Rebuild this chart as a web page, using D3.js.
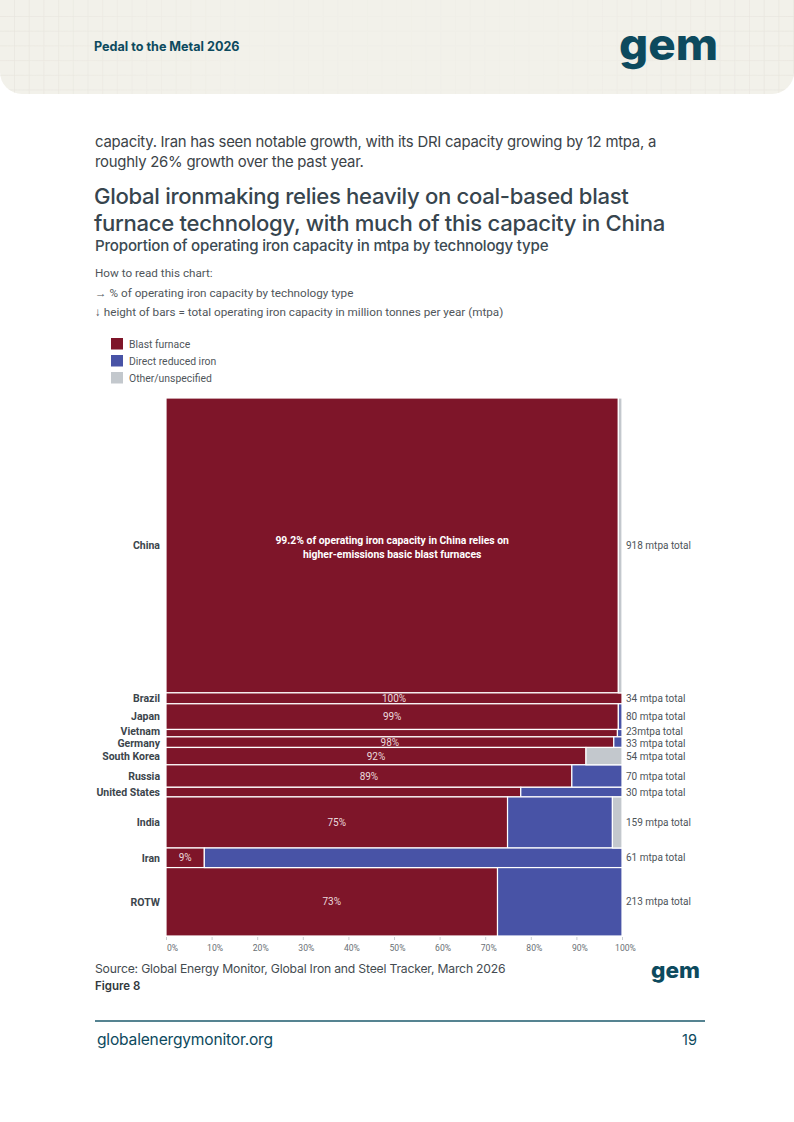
<!DOCTYPE html>
<html>
<head>
<meta charset="utf-8">
<script src="https://cdn.jsdelivr.net/npm/d3@7"></script>
<style>
  body { margin: 0; background: #fff; }
  svg { display: block; }
</style>
</head>
<body>
<script>
// values
var countries = ["China", "Brazil", "Japan", "Vietnam", "Germany", "South Korea", "Russia", "United States", "India", "Iran", "ROTW"];
var totals = [918, 34, 80, 23, 33, 54, 70, 30, 159, 61, 213];
var totalLabels = ["918 mtpa total", "34 mtpa total", "80 mtpa total", "23mtpa total", "33 mtpa total", "54 mtpa total",
                   "70 mtpa total", "30 mtpa total", "159 mtpa total", "61 mtpa total", "213 mtpa total"];
var blastFurnace = [99.2, 100, 99.2, 99.0, 98.2, 92.1, 89.0, 77.8, 74.9, 8.4, 72.7];
var directReduced = [0, 0, 0.8, 1.0, 1.8, 0, 11.0, 22.2, 23.0, 91.6, 27.3];
var otherUnspec = [0.8, 0, 0, 0, 0, 7.9, 0, 0, 2.1, 0, 0];
var pctLabels = ["", "100%", "99%", "", "98%", "92%", "89%", "", "75%", "9%", "73%"];
var xTicks = [0, 10, 20, 30, 40, 50, 60, 70, 80, 90, 100];

var seriesKeys = ["bf", "dri", "other"];
var seriesNames = ["Blast furnace", "Direct reduced iron", "Other/unspecified"];
var colors = {bf: "#7e1529", dri: "#4853a6", other: "#c3c8cd"};

var W = 794, H = 1122;
var teal = "#0d4a5e";
var chartFont = "Roboto, 'Noto Sans', sans-serif";
var textFont = "Inter, 'Noto Sans', sans-serif";

var svg = d3.select("body").append("svg")
    .attr("width", W)
    .attr("height", H);

// ---- page header band ----
var defs = svg.append("defs");
var grad = defs.append("linearGradient").attr("id", "fade");
grad.append("stop").attr("offset", "0%").attr("stop-color", "#fff").attr("stop-opacity", 1);
grad.append("stop").attr("offset", "30%").attr("stop-color", "#fff").attr("stop-opacity", 0.15);
grad.append("stop").attr("offset", "70%").attr("stop-color", "#fff").attr("stop-opacity", 0.15);
grad.append("stop").attr("offset", "100%").attr("stop-color", "#fff").attr("stop-opacity", 1);
defs.append("mask").attr("id", "gridMask")
  .append("rect").attr("width", W).attr("height", 94).attr("fill", "url(#fade)");
defs.append("clipPath").attr("id", "headClip")
  .append("path").attr("d", "M0,0H794V72A22,22 0 0 1 772,94H22A22,22 0 0 1 0,72Z");

var head = svg.append("g").attr("clip-path", "url(#headClip)");
head.append("rect").attr("width", W).attr("height", 94).attr("fill", "#f2f1ea");
var grid = head.append("g").attr("mask", "url(#gridMask)")
    .attr("stroke", "#e5e3dc").attr("stroke-width", 0.6);
grid.selectAll("line.v").data(d3.range(14.5, W, 14.7)).enter().append("line")
    .attr("x1", function(d){ return d; }).attr("x2", function(d){ return d; })
    .attr("y1", 0).attr("y2", 94);
grid.selectAll("line.h").data(d3.range(16.5, 94, 14.7)).enter().append("line")
    .attr("y1", function(d){ return d; }).attr("y2", function(d){ return d; })
    .attr("x1", 0).attr("x2", W);

svg.append("text").attr("x", 94).attr("y", 51)
    .style("font-family", textFont).style("font-size", "12.6px").style("font-weight", 700)
    .attr("fill", teal).text("Pedal to the Metal 2026");

svg.append("text").attr("x", 619).attr("y", 60)
    .attr("textLength", 99).attr("lengthAdjust", "spacingAndGlyphs")
    .style("font-family", textFont).style("font-size", "44px").style("font-weight", 800)
    .attr("fill", teal).text("gem");

// ---- intro text and titles ----
var bodyLines = ["capacity. Iran has seen notable growth, with its DRI capacity growing by 12 mtpa, a",
                 "roughly 26% growth over the past year."];
svg.selectAll("text.body").data(bodyLines).enter().append("text")
    .attr("class", "body")
    .attr("x", 95).attr("y", function(d, i){ return 147 + i * 20; })
    .style("font-family", textFont).style("font-size", "14.9px").style("letter-spacing", "-0.25px")
    .attr("fill", "#3c4348").text(function(d){ return d; });

var titleLines = ["Global ironmaking relies heavily on coal-based blast",
                  "furnace technology, with much of this capacity in China"];
svg.selectAll("text.title").data(titleLines).enter().append("text")
    .attr("class", "title")
    .attr("x", 94).attr("y", function(d, i){ return 204 + i * 27; })
    .style("font-family", textFont).style("font-size", "22.1px").style("font-weight", 500)
    .style("letter-spacing", "-0.3px")
    .attr("fill", "#37454e").text(function(d){ return d; });

svg.append("text").attr("x", 95).attr("y", 251)
    .style("font-family", textFont).style("font-size", "15.1px").style("font-weight", 500)
    .style("letter-spacing", "-0.2px")
    .attr("fill", "#3b4a53").text("Proportion of operating iron capacity in mtpa by technology type");

var howLines = ["How to read this chart:",
                "\u2192 % of operating iron capacity by technology type",
                "\u2193 height of bars = total operating iron capacity in million tonnes per year (mtpa)"];
svg.selectAll("text.how").data(howLines).enter().append("text")
    .attr("class", "how")
    .attr("x", 95).attr("y", function(d, i){ return 277 + i * 19.5; })
    .style("font-family", chartFont).style("font-size", "11.7px")
    .attr("fill", "#50565b").text(function(d){ return d; });

// ---- legend ----
var legend = svg.append("g").attr("transform", "translate(111,338)");
var li = legend.selectAll("g").data(seriesKeys).enter().append("g")
    .attr("transform", function(d, i){ return "translate(0," + (i * 17) + ")"; });
li.append("rect").attr("width", 12).attr("height", 11.5)
    .attr("fill", function(d){ return colors[d]; });
li.append("text").attr("x", 18).attr("y", 10)
    .style("font-family", chartFont).style("font-size", "10.4px")
    .attr("fill", "#50565b").text(function(d, i){ return seriesNames[i]; });

// ---- marimekko ----
var x = d3.scaleLinear().domain([0, 100]).range([166, 622]);
var y = d3.scaleLinear().domain([0, d3.sum(totals)]).range([398, 936]);

var cum = [0].concat(Array.from(d3.cumsum(totals)));
var rows = countries.map(function(c, i){
  return {name: c, total: totals[i], y0: cum[i], y1: cum[i + 1],
          bf: blastFurnace[i], dri: directReduced[i], other: otherUnspec[i],
          label: totalLabels[i], pct: pctLabels[i]};
});

var stack = d3.stack().keys(seriesKeys);
var layers = stack(rows);

var chart = svg.append("g");
chart.selectAll("g.layer").data(layers).enter().append("g")
    .attr("class", "layer")
    .attr("fill", function(d){ return colors[d.key]; })
  .selectAll("rect")
    .data(function(d){ return d.filter(function(s){ return s[1] - s[0] > 0; }); })
    .enter().append("rect")
    .attr("x", function(s){ return x(s[0]); })
    .attr("width", function(s){ return x(s[1]) - x(s[0]); })
    .attr("y", function(s){ return y(s.data.y0); })
    .attr("height", function(s){ return y(s.data.y1) - y(s.data.y0); })
    .attr("stroke", "#fff").attr("stroke-width", 1.2);

// percentage labels inside blast furnace segments
chart.selectAll("text.pct").data(rows.filter(function(r){ return r.pct; })).enter().append("text")
    .attr("class", "pct")
    .attr("x", function(r){ return x(r.bf / 2); })
    .attr("y", function(r){ return (y(r.y0) + y(r.y1)) / 2; })
    .attr("dy", "0.36em").attr("text-anchor", "middle")
    .style("font-family", chartFont).style("font-size", "10px")
    .attr("fill", "#eadadd").text(function(r){ return r.pct; });

// China annotation
var china = rows[0];
var note = chart.append("text")
    .attr("x", x(china.bf / 2))
    .attr("y", (y(china.y0) + y(china.y1)) / 2 - 1)
    .attr("text-anchor", "middle")
    .style("font-family", chartFont).style("font-size", "10.4px").style("font-weight", 700)
    .attr("fill", "#fff");
note.append("tspan").attr("x", x(china.bf / 2)).attr("dy", 0)
    .text("99.2% of operating iron capacity in China relies on");
note.append("tspan").attr("x", x(china.bf / 2)).attr("dy", 14)
    .text("higher-emissions basic blast furnaces");

// country names
var nameNudge = {"Vietnam": -1.5, "Germany": 1};
chart.selectAll("text.country").data(rows).enter().append("text")
    .attr("class", "country")
    .attr("x", 160)
    .attr("y", function(r){ return (y(r.y0) + y(r.y1)) / 2 + (nameNudge[r.name] || 0); })
    .attr("dy", "0.36em").attr("text-anchor", "end")
    .style("font-family", chartFont).style("font-size", "10.5px").style("font-weight", 700)
    .attr("fill", "#3c454c").text(function(r){ return r.name; });

// totals on the right
chart.selectAll("text.total").data(rows).enter().append("text")
    .attr("class", "total")
    .attr("x", 626)
    .attr("y", function(r){ return (y(r.y0) + y(r.y1)) / 2 + (nameNudge[r.name] || 0); })
    .attr("dy", "0.36em")
    .style("font-family", chartFont).style("font-size", "10px")
    .attr("fill", "#4d5459").text(function(r){ return r.label; });

// x axis
var xAxisGroup = svg.append("g").attr("transform", "translate(0,937)");
var xAxis = d3.axisBottom(x)
    .tickValues(xTicks)
    .tickFormat(function(d){ return d + "%"; })
    .tickSize(3).tickPadding(5);
xAxis(xAxisGroup);
xAxisGroup.select(".domain").remove();
xAxisGroup.selectAll("line").attr("stroke", "#c9cdd0");
xAxisGroup.selectAll("text")
    .attr("dx", 3)
    .style("font-family", chartFont).style("font-size", "8.6px")
    .attr("fill", "#6a7075");
xAxisGroup.selectAll("text").filter(function(d){ return d === 0; }).attr("dx", 6);

// ---- source and footer ----
svg.append("text").attr("x", 95).attr("y", 973)
    .style("font-family", textFont).style("font-size", "12.2px").style("letter-spacing", "-0.2px")
    .attr("fill", "#444b50").text("Source: Global Energy Monitor, Global Iron and Steel Tracker, March 2026");
svg.append("text").attr("x", 95).attr("y", 990)
    .style("font-family", textFont).style("font-size", "11.5px").style("font-weight", 600)
    .attr("fill", "#33393d").text("Figure 8");
svg.append("text").attr("x", 651).attr("y", 978)
    .attr("textLength", 49).attr("lengthAdjust", "spacingAndGlyphs")
    .style("font-family", textFont).style("font-size", "22px").style("font-weight", 800)
    .attr("fill", teal).text("gem");

svg.append("line").attr("x1", 95).attr("x2", 705).attr("y1", 1021).attr("y2", 1021)
    .attr("stroke", "#1d5a6d").attr("stroke-width", 1.3);
svg.append("text").attr("x", 97).attr("y", 1045)
    .style("font-family", textFont).style("font-size", "15.6px").style("letter-spacing", "-0.2px")
    .attr("fill", teal).text("globalenergymonitor.org");
svg.append("text").attr("x", 697).attr("y", 1045).attr("text-anchor", "end")
    .style("font-family", textFont).style("font-size", "14.5px")
    .attr("fill", teal).text("19");
</script>
</body>
</html>
